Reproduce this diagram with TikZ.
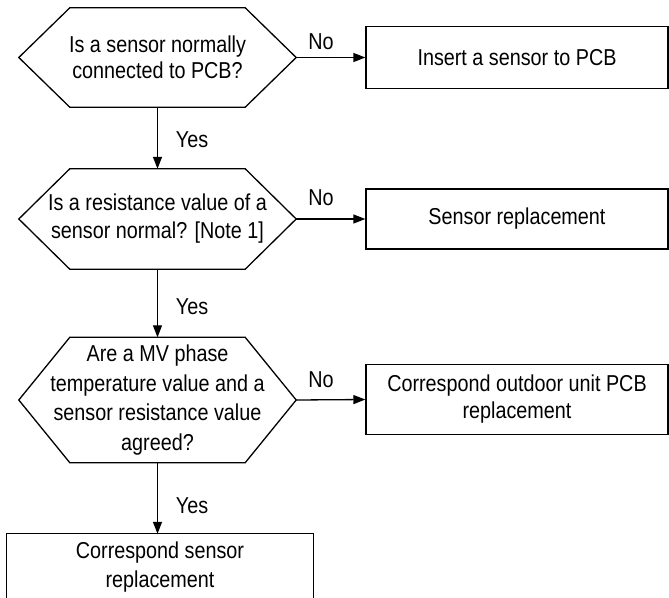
\documentclass[tikz,border=0pt]{standalone}
\usepackage{fontspec}
\setmainfont{Liberation Sans}[FakeStretch=0.86]
\usetikzlibrary{arrows.meta,calc}
\begin{document}
\begin{tikzpicture}[x=1pt,y=-1pt,
  lbl/.style={font=\fontsize{23}{27}\selectfont, align=center, inner sep=0pt},
  lsk/.style={font=\fontsize{23}{#1}\selectfont},
  hexnode/.style={lbl, minimum width=277pt},
  boxnode/.style={lbl, draw, line width=1.3pt, rectangle, minimum width=302pt},
  shapeline/.style={line width=1.3pt, line join=miter},
  conn/.style={line width=1.3pt, -{Triangle[length=12pt,width=9pt]}},
  ]
\useasboundingbox (0,0) rectangle (669,597);

% decisions
\node[hexnode, lsk=26, minimum height=99pt] (h1) at (157.5,57.5) {Is a sensor normally\\connected to PCB?};
\node[hexnode, lsk=28, minimum height=100pt] (h2) at (157.5,219) {Is a resistance value of a\\sensor normal? [Note 1]};
\node[hexnode, lsk=29.7, minimum height=125pt] (h3) at (157.5,400) {Are a MV phase\\temperature value and a\\sensor resistance value\\agreed?};

\foreach \h in {h1,h2,h3}{
  \draw[shapeline] (\h.west) -- ($(\h.north west)+(51,0)$) -- ($(\h.north east)+(-51,0)$)
    -- (\h.east) -- ($(\h.south east)+(-51,0)$) -- ($(\h.south west)+(51,0)$) -- cycle;
}

% actions
\node[boxnode, minimum height=62pt] (b1) at (517,57.5) {Insert a sensor to PCB};
\node[boxnode, minimum height=60pt] (b2) at (517,219) {Sensor replacement};
\node[boxnode, lsk=27, minimum height=70pt] (b3) at (517,399.5) {Correspond outdoor unit PCB\\replacement};
\node[lbl, lsk=29, minimum width=306pt, minimum height=67pt] (b4) at (160,567.5) {Correspond sensor\\replacement};
\draw[shapeline] (b4.south west) -- (b4.north west) -- (b4.north east) -- (b4.south east);

% connectors
\draw[conn] (h1.east) -- (b1.west);
\draw[conn] (h2.east) -- (b2.west);
\draw[conn] (h3.east) -- (b3.west);
\draw[conn] (h1.south) -- (h2.north);
\draw[conn] (h2.south) -- (h3.north);
\draw[conn] (h3.south) -- (h3.south |- b4.north);

% labels
\node[lbl] (no1) at (321,42) {No};
\node[lbl] (no2) at (321,198) {No};
\node[lbl] (no3) at (321,380) {No};
\node[lbl] (yes1) at (192,140) {Yes};
\node[lbl] (yes2) at (192,307) {Yes};
\node[lbl] (yes3) at (192,506) {Yes};
\end{tikzpicture}
\end{document}
